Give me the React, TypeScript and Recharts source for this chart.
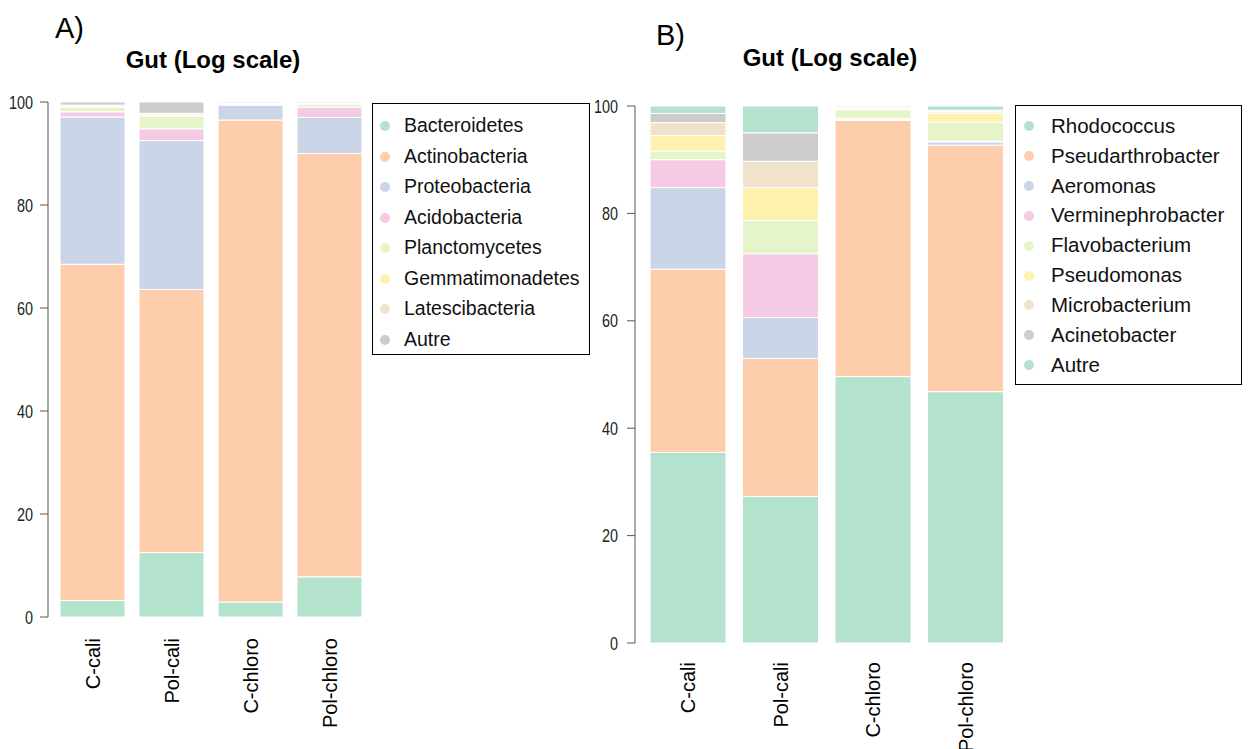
import { Bar, BarChart, XAxis, YAxis } from "recharts"

const samples = ["C-cali", "Pol-cali", "C-chloro", "Pol-chloro"]
const yTicks = [0, 20, 40, 60, 80, 100]

// panel A : phyla (%)
const phyla = [
  "Bacteroidetes",
  "Actinobacteria",
  "Proteobacteria",
  "Acidobacteria",
  "Planctomycetes",
  "Gemmatimonadetes",
  "Latescibacteria",
  "Autre",
]
const bacteroidetes = [3.2, 12.5, 2.9, 7.8]
const actinobacteria = [65.3, 51.1, 93.6, 82.2]
const proteobacteria = [28.6, 28.9, 2.9, 7.0]
const acidobacteria = [1.0, 2.3, 0.1, 2.0]
const planctomycetes = [0.9, 2.5, 0.1, 0.6]
const gemmatimonadetes = [0.2, 0.2, 0.1, 0.1]
const latescibacteria = [0.2, 0.3, 0.1, 0.1]
const autreA = [0.6, 2.2, 0.2, 0.2]

// panel B : genera (%)
const genera = [
  "Rhodococcus",
  "Pseudarthrobacter",
  "Aeromonas",
  "Verminephrobacter",
  "Flavobacterium",
  "Pseudomonas",
  "Microbacterium",
  "Acinetobacter",
  "Autre",
]
const rhodococcus = [35.5, 27.3, 49.6, 46.8]
const pseudarthrobacter = [34.1, 25.7, 47.7, 45.9]
const aeromonas = [15.2, 7.6, 0.2, 0.6]
const verminephrobacter = [5.2, 11.9, 0.2, 0.2]
const flavobacterium = [1.6, 6.2, 1.6, 3.5]
const pseudomonas = [2.9, 6.1, 0.2, 1.7]
const microbacterium = [2.4, 4.9, 0.2, 0.3]
const acinetobacter = [1.7, 5.3, 0.1, 0.2]
const autreB = [1.4, 5.0, 0.2, 0.8]

const pastel = ["#b3e2cd", "#fdcdac", "#cbd5e8", "#f4cae4", "#e6f5c9", "#fff2ae", "#f1e2cc", "#cccccc"]

const seriesA = [bacteroidetes, actinobacteria, proteobacteria, acidobacteria, planctomycetes, gemmatimonadetes, latescibacteria, autreA]
const seriesB = [rhodococcus, pseudarthrobacter, aeromonas, verminephrobacter, flavobacterium, pseudomonas, microbacterium, acinetobacter, autreB]

const buildRows = (names: string[], series: number[][]) =>
  samples.map((s, i) => {
    const row: Record<string, string | number> = { name: s }
    names.forEach((n, k) => {
      row["s" + k] = series[k][i]
    })
    return row
  })

const dataA = buildRows(phyla, seriesA)
const dataB = buildRows(genera, seriesB)

const FONT = "'Liberation Sans', Arial, sans-serif"

function RotTick(props: any) {
  const { x, y, payload, dy } = props
  const yy = y + dy
  return (
    <text
      x={x}
      y={yy}
      transform={`rotate(-90 ${x} ${yy})`}
      textAnchor="end"
      dominantBaseline="central"
      fontSize={20}
      fontFamily={FONT}
      fill="#000"
    >
      {payload.value}
    </text>
  )
}

// narrow-looking y tick labels, like the R output
function NarrowTick(props: any) {
  const { x, y, payload } = props
  return (
    <text
      x={0}
      y={0}
      transform={`translate(${x} ${y}) scale(0.8 1)`}
      textAnchor="end"
      dominantBaseline="central"
      fontSize={18}
      fontFamily={FONT}
      fill="#222"
    >
      {payload.value}
    </text>
  )
}

function LegendBox(props: {
  names: string[]
  left: number
  top: number
  width: number
  height: number
  first: number
  step: number
  dotX: number
  textX: number
  fontSize: number
}) {
  const { names, left, top, width, height, first, step, dotX, textX, fontSize } = props
  return (
    <div
      style={{
        position: "absolute",
        left,
        top,
        width,
        height,
        border: "1px solid #000",
        boxSizing: "border-box",
        fontFamily: FONT,
        fontSize,
        color: "#111",
      }}
    >
      {names.map((n, i) => (
        <div key={n}>
          <div
            style={{
              position: "absolute",
              left: dotX - 5,
              top: first + i * step - 5,
              width: 10,
              height: 10,
              borderRadius: 5,
              background: pastel[i % pastel.length],
            }}
          />
          <div
            style={{
              position: "absolute",
              left: textX,
              top: first + i * step - fontSize * 0.6,
              lineHeight: `${fontSize * 1.2}px`,
              whiteSpace: "nowrap",
            }}
          >
            {n}
          </div>
        </div>
      ))}
    </div>
  )
}

export default function App() {
  return (
    <div style={{ position: "absolute", left: 0, top: 0, width: 1249, height: 749, background: "#fff" }}>
      <div style={{ position: "absolute", left: 55, top: 12, fontFamily: FONT, fontSize: 29, lineHeight: "32px" }}>A)</div>
      <div style={{ position: "absolute", left: 656, top: 19, fontFamily: FONT, fontSize: 29, lineHeight: "32px" }}>B)</div>
      <div
        style={{
          position: "absolute",
          left: 113,
          top: 46,
          width: 200,
          textAlign: "center",
          fontFamily: FONT,
          fontWeight: "bold",
          fontSize: 24,
          lineHeight: "28px",
        }}
      >
        Gut (Log scale)
      </div>
      <div
        style={{
          position: "absolute",
          left: 730,
          top: 44,
          width: 200,
          textAlign: "center",
          fontFamily: FONT,
          fontWeight: "bold",
          fontSize: 24,
          lineHeight: "28px",
        }}
      >
        Gut (Log scale)
      </div>

      <div style={{ position: "absolute", left: 0, top: 0 }}>
        <BarChart width={372} height={749} data={dataA} margin={{ top: 102, right: 3, left: 0, bottom: 0 }}>
          <XAxis
            dataKey="name"
            height={132}
            padding={{ left: 5, right: 0 }}
            axisLine={false}
            tickLine={false}
            tickSize={0}
            tickMargin={0}
            interval={0}
            tick={<RotTick dy={21} />}
          />
          <YAxis
            width={48}
            domain={[0, 100]}
            ticks={yTicks}
            stroke="#555"
            tickSize={8}
            tickMargin={7}
            tick={<NarrowTick />}
          />
          {phyla.map((p, k) => (
            <Bar
              key={p}
              dataKey={"s" + k}
              name={p}
              stackId="a"
              fill={pastel[k % pastel.length]}
              stroke="#fff"
              strokeWidth={1}
              barSize={65}
              isAnimationActive={false}
            />
          ))}
        </BarChart>
      </div>

      <div style={{ position: "absolute", left: 590, top: 0 }}>
        <BarChart width={422} height={749} data={dataB} margin={{ top: 106, right: 0, left: 0, bottom: 0 }}>
          <XAxis
            dataKey="name"
            height={106}
            padding={{ left: 7, right: 0 }}
            axisLine={false}
            tickLine={false}
            tickSize={0}
            tickMargin={0}
            interval={0}
            tick={<RotTick dy={19} />}
          />
          <YAxis
            width={45}
            domain={[0, 100]}
            ticks={yTicks}
            stroke="#555"
            tickSize={8}
            tickMargin={9}
            tick={<NarrowTick />}
          />
          {genera.map((g, k) => (
            <Bar
              key={g}
              dataKey={"s" + k}
              name={g}
              stackId="b"
              fill={pastel[k % pastel.length]}
              stroke="#fff"
              strokeWidth={1}
              barSize={76}
              isAnimationActive={false}
            />
          ))}
        </BarChart>
      </div>

      <LegendBox
        names={phyla}
        left={372}
        top={103}
        width={218}
        height={252}
        first={22}
        step={30.5}
        dotX={12}
        textX={31}
        fontSize={19.5}
      />
      <LegendBox
        names={genera}
        left={1015}
        top={105}
        width={227}
        height={280}
        first={20}
        step={29.9}
        dotX={13}
        textX={35}
        fontSize={20.5}
      />
    </div>
  )
}
